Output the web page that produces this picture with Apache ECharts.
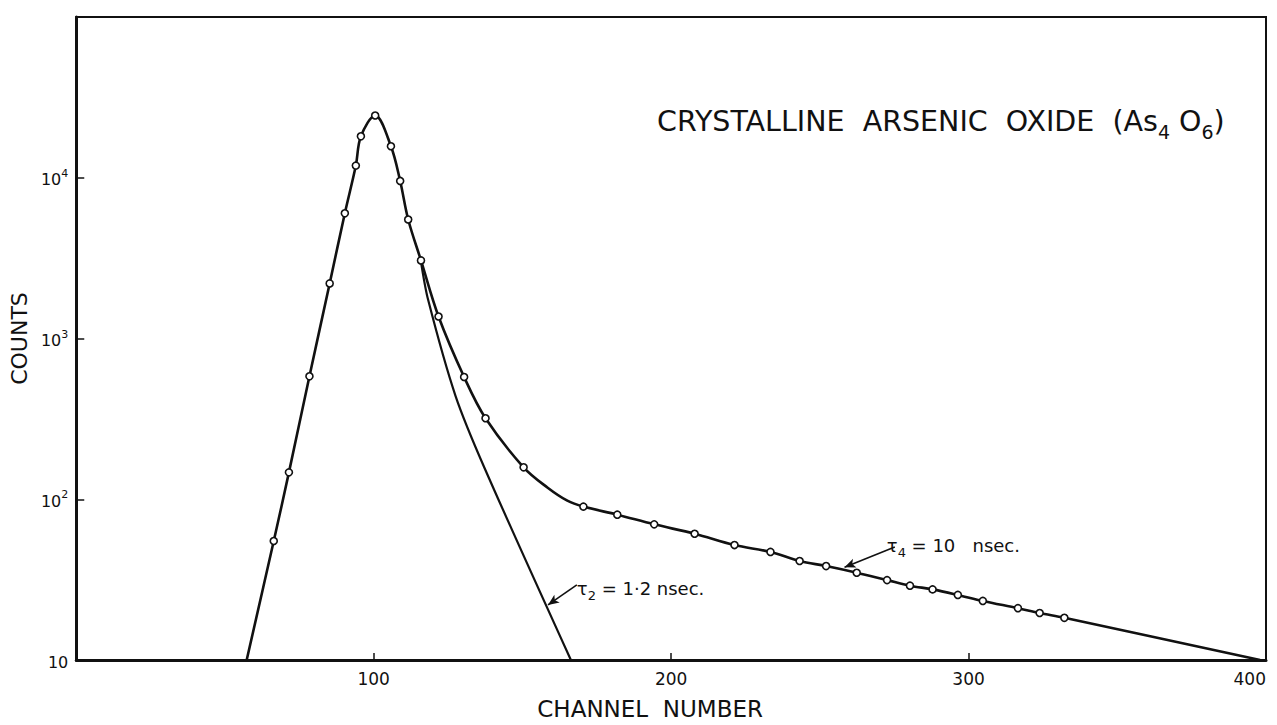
<!DOCTYPE html>
<html><head><meta charset="utf-8">
<script src="https://cdn.jsdelivr.net/npm/echarts@6/dist/echarts.min.js"></script>
<style>html,body{margin:0;padding:0;background:#fff}#c{width:1277px;height:725px}</style>
</head><body><div id="c"></div>
<script>
// Measured data points (open circles): channel number and counts
const dataChannels = [66.4, 71.5, 78.4, 85.2, 90.3, 94.0, 95.7, 100.5, 105.8, 108.9, 111.6, 115.9, 121.8, 130.4, 137.6, 150.4, 170.5, 181.9, 194.3, 207.9, 221.3, 233.4, 243.2, 252.1, 262.4, 272.6, 280.3, 287.9, 296.4, 304.8, 316.6, 323.9, 332.2];
const dataCounts   = [55, 147, 582, 2200, 6010, 11900, 18100, 24400, 15700, 9550, 5500, 3060, 1370, 576, 319, 158, 90, 80.2, 69.8, 61, 51.9, 47, 41.3, 38.4, 34.9, 31.4, 29.0, 27.5, 25.4, 23.3, 21.0, 19.6, 18.3];
// Fitted total curve (drawn line)
const fitChannels = [57.3, 66.4, 71.5, 78.4, 85.2, 90.3, 94.0, 95.7, 100.5, 105.8, 108.9, 111.6, 115.9, 121.8, 130.4, 137.6, 150.4, 158.5, 165.1, 170.5, 181.9, 194.3, 207.9, 221.3, 233.4, 243.2, 252.1, 262.4, 272.6, 280.3, 287.9, 296.4, 304.8, 316.6, 323.9, 332.2, 398];
const fitCounts   = [10, 55, 147, 582, 2200, 6010, 11900, 18100, 24400, 15700, 9550, 5500, 3060, 1370, 576, 319, 158, 118, 98, 90, 80.2, 69.8, 61, 51.9, 47, 41.3, 38.4, 34.9, 31.4, 29.0, 27.5, 25.4, 23.3, 21.0, 19.6, 18.3, 10];
// Short-lifetime component (tau2) line
const tau2Channels = [115.9, 118.3, 127.5, 137.3, 166.3];
const tau2Counts   = [3000, 1740, 440, 156, 10];
// Annotation arrows [start(on curve), end(at text)]
const tau2Arrow = [[158.6, 22], [168.3, 29.3]];
const tau4Arrow = [[258.3, 37.8], [275.2, 50.5]];
// Text
const tau2Text = '{t|τ}{sub|2}{t| = 1·2 nsec.}';
const tau4Text = '{t|τ}{sub|4}{t| = 10   nsec.}';
const titleText = '{t|CRYSTALLINE  ARSENIC  OXIDE  (As}{sub|4}{t| O}{sub|6}{t|)}';
const xName = 'CHANNEL  NUMBER';
const yName = 'COUNTS';
const yTickLabels = {10: '{b|10}', 100: '{b|10}{sup|2}', 1000: '{b|10}{sup|3}', 10000: '{b|10}{sup|4}'};

const FONT = 'DejaVu Sans';
const INK = '#111';
const toPairs = (xs, ys) => xs.map((x, i) => [x, ys[i]]);

const chart = echarts.init(document.getElementById('c'), null, {renderer: 'svg'});
chart.setOption({
  backgroundColor: '#fff',
  animation: false,
  title: {
    text: titleText, left: 652, top: 95,
    textStyle: {
      fontWeight: 'normal',
      rich: {
        t: {fontFamily: FONT, fontSize: 28.5, color: INK, fontWeight: 'normal', lineHeight: 36, verticalAlign: 'bottom'},
        sub: {fontFamily: FONT, fontSize: 19, color: INK, fontWeight: 'normal', lineHeight: 36, verticalAlign: 'bottom', padding: [0, 0, -5, 0]}
      }
    }
  },
  grid: {left: 74, right: 11, top: 17, bottom: 58, show: true, borderColor: INK, borderWidth: 2, backgroundColor: 'transparent'},
  xAxis: {
    type: 'value', min: 0, max: 400, interval: 100,
    name: xName, nameLocation: 'middle', nameGap: 37,
    nameTextStyle: {fontFamily: FONT, fontSize: 23, color: INK, padding: [0, 42, 0, 0]},
    axisLine: {show: true, lineStyle: {color: INK, width: 3}},
    axisTick: {show: true, inside: true, length: 7, lineStyle: {color: INK, width: 1.5}},
    splitLine: {show: false},
    axisLabel: {
      margin: 10, fontFamily: FONT, fontSize: 17, color: INK, alignMaxLabel: 'right',
      formatter: v => (v === 0 ? '' : String(v))
    }
  },
  yAxis: {
    type: 'log', logBase: 10, min: 10, max: 100000,
    name: yName, nameLocation: 'middle', nameGap: 38, nameRotate: 90,
    nameTextStyle: {fontFamily: FONT, fontSize: 22, color: INK},
    axisLine: {show: true, lineStyle: {color: INK, width: 3}},
    axisTick: {show: true, inside: true, length: 8, lineStyle: {color: INK, width: 1.5}},
    splitLine: {show: false},
    minorTick: {show: false},
    axisLabel: {
      margin: 8, color: INK,
      formatter: v => yTickLabels[Math.round(v)] || '',
      rich: {
        b: {fontFamily: FONT, fontSize: 16, color: INK, lineHeight: 20, verticalAlign: 'bottom'},
        sup: {fontFamily: FONT, fontSize: 11, color: INK, lineHeight: 20, verticalAlign: 'bottom', padding: [0, 0, 9, 0]}
      }
    }
  },
  series: [
    {
      name: 'fit', type: 'line', data: toPairs(fitChannels, fitCounts),
      smooth: 0.35, symbol: 'none', z: 3,
      lineStyle: {color: INK, width: 2.6}
    },
    {
      name: 'tau2', type: 'line', data: toPairs(tau2Channels, tau2Counts),
      smooth: 0.3, symbol: 'none', z: 3,
      lineStyle: {color: INK, width: 2.2},
      markLine: {
        silent: true, symbol: ['arrow', 'none'], symbolSize: [7, 11],
        lineStyle: {color: INK, width: 1.6, type: 'solid'}, label: {show: false},
        data: [
          [{coord: tau2Arrow[0]}, {coord: tau2Arrow[1]}],
          [{coord: tau4Arrow[0]}, {coord: tau4Arrow[1]}]
        ]
      },
      markPoint: {
        silent: true, symbol: 'circle', symbolSize: 0,
        label: {
          show: true, position: 'right', distance: 0,
          rich: {
            t: {fontFamily: FONT, fontSize: 18, color: INK, lineHeight: 24, verticalAlign: 'bottom'},
            sub: {fontFamily: FONT, fontSize: 13, color: INK, lineHeight: 24, verticalAlign: 'bottom', padding: [0, 0, -4, 0]}
          }
        },
        data: [
          {coord: tau2Arrow[1], label: {formatter: tau2Text, offset: [0, 1]}},
          {coord: tau4Arrow[1], label: {formatter: tau4Text, offset: [-8, -4]}}
        ]
      }
    },
    {
      name: 'data', type: 'scatter', data: toPairs(dataChannels, dataCounts),
      symbol: 'circle', symbolSize: 7, z: 5,
      itemStyle: {color: '#fff', opacity: 1, borderColor: INK, borderWidth: 1.6}
    }
  ]
});
</script></body></html>
